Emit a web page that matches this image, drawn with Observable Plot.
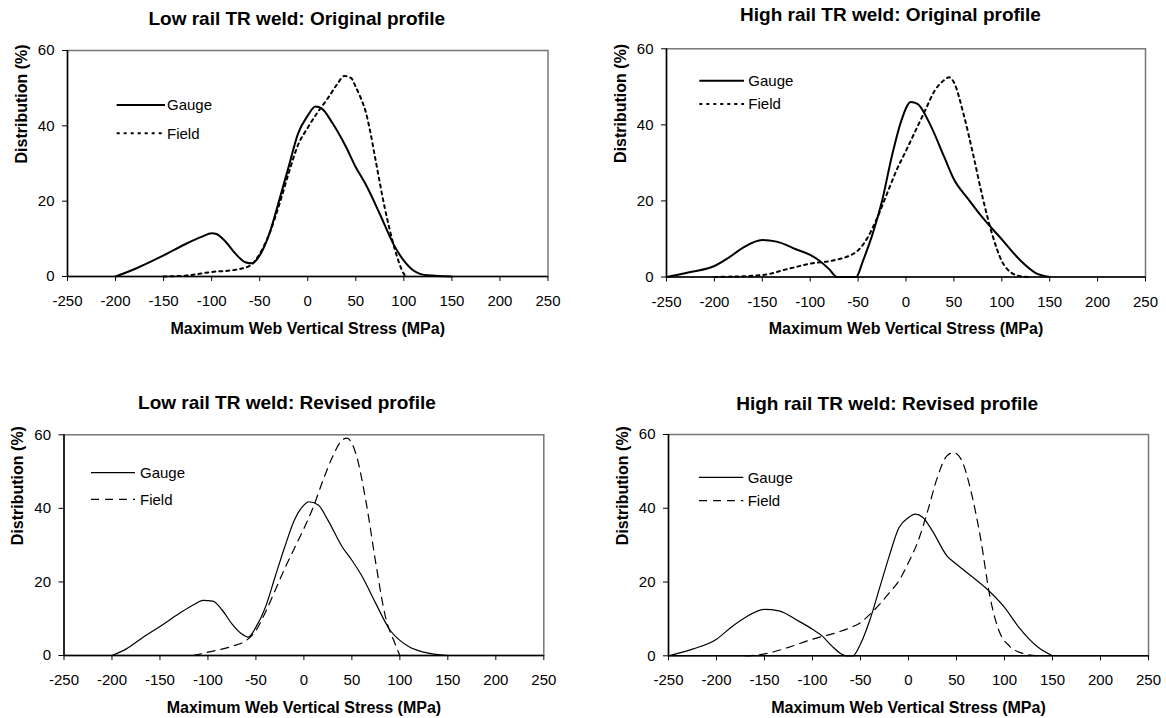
<!DOCTYPE html>
<html>
<head>
<meta charset="utf-8">
<script src="https://cdn.jsdelivr.net/npm/d3@7"></script>
<script src="https://cdn.jsdelivr.net/npm/@observablehq/plot@0.6"></script>
<style>
  body { margin: 0; background: #fff; }
  #root { position: relative; width: 1166px; height: 718px; overflow: hidden; background: #fff;
          font-family: "Liberation Sans", Arial, sans-serif; }
  .panel { position: absolute; }
  #legendLayer { position: absolute; left: 0; top: 0; pointer-events: none; }
</style>
</head>
<body>
<div id="root"></div>
<script>
// ---------- tick labels & text ----------
const xTicks = [-250, -200, -150, -100, -50, 0, 50, 100, 150, 200, 250];
const yTicks = [0, 20, 40, 60];
const panelTitles = [
  "Low rail TR weld: Original profile",
  "High rail TR weld: Original profile",
  "Low rail TR weld: Revised profile",
  "High rail TR weld: Revised profile"
];
const xAxisLabel = "Maximum Web Vertical Stress (MPa)";
const yAxisLabel = "Distribution (%)";
const seriesNames = ["Gauge", "Field"];

// ---------- data: Low rail, original profile ----------
const lowOrigGaugeX = [-200,-180,-150,-125,-110,-100,-95,-85,-75,-65,-58,-50,-40,-30,-20,-10,0,8,15,25,40,50,60,75,90,100,110,125,150];
const lowOrigGaugeY = [0,2,5.6,8.9,10.6,11.5,11.3,9.1,6,3.8,3.5,5.6,11.3,20,29,38,42.7,45.1,44.5,41,34.3,29,24.6,16.6,8.2,4.2,1.6,0.3,0];
const lowOrigFieldX = [-150,-125,-100,-75,-60,-50,-40,-30,-20,-10,0,10,20,30,38,45,50,55,60,65,70,80,90,100,102];
const lowOrigFieldY = [0,0.3,1.2,1.8,2.9,6,11.3,18.8,27.3,35,39.5,43.5,47,50.8,53.2,52.7,50.3,47.5,44,38.5,31.7,18.4,7.8,0.7,0];

// ---------- data: High rail, original profile ----------
const highOrigGaugeX = [-250,-225,-200,-185,-170,-150,-135,-115,-100,-90,-80,-72,-52,-45,-35,-25,-15,-5,5,12,25,40,50,65,80,100,120,135,150];
const highOrigGaugeY = [0,1.3,2.9,5.1,7.7,9.7,9.3,7.3,5.8,4.2,2,0,0,4.2,11.2,20,31.5,41,46,45.5,40.2,31.5,25.7,20.5,15.6,9.9,4.2,1.1,0];
const highOrigFieldX = [-200,-150,-125,-100,-75,-60,-50,-40,-30,-20,-10,0,10,20,30,40,45,50,60,70,80,90,100,110,120,130];
const highOrigFieldY = [0,0.5,2,3.5,4.4,5.5,7,10.4,15.6,21.8,28,33.2,38.5,43.8,49,51.8,52.5,51.2,42.9,32.3,20.9,11.2,4.2,1.1,0.2,0];

// ---------- data: Low rail, revised profile ----------
const lowRevGaugeX = [-200,-185,-170,-150,-130,-115,-105,-95,-85,-75,-65,-58,-50,-40,-30,-20,-10,0,5,15,25,40,50,60,75,90,100,110,125,150];
const lowRevGaugeY = [0,1.8,4.5,7.9,11.4,13.8,15,14.8,12.3,8.6,5.9,5,7.7,13.2,21.4,29.5,36.8,40.9,41.8,40.9,36.8,29.5,25.9,21.8,14.1,6.8,4.1,2.3,0.9,0];
const lowRevFieldX = [-115,-100,-75,-60,-50,-40,-30,-20,-10,0,10,20,30,40,45,50,55,65,75,85,95,100];
const lowRevFieldY = [0,0.9,2.5,4.1,6.8,11.8,17.7,23.6,29.1,34.5,40.5,47.7,54.1,58.6,59.1,57.7,54.1,41.4,25,10.5,3.2,0];

// ---------- data: High rail, revised profile ----------
const highRevGaugeX = [-250,-225,-200,-185,-170,-150,-135,-115,-100,-90,-80,-70,-65,-58,-50,-40,-30,-20,-10,0,7,15,25,40,50,65,80,100,115,135,150];
const highRevGaugeY = [0,1.8,4.5,7.7,10.4,12.6,12.2,9.5,7.2,5.4,2.7,0.5,0,0,3.2,9.9,18.5,27.1,34.7,37.5,38.4,37.5,33.8,27.1,24.8,21.7,18.5,13.1,7.7,2.3,0];
const highRevFieldX = [-170,-150,-125,-100,-75,-60,-50,-40,-30,-20,-10,0,10,20,30,40,47,55,65,75,85,95,105,120,135];
const highRevFieldY = [0,0.5,2.3,4.5,6.3,7.7,9,11.3,14,17.1,20.3,25.3,31.1,39.3,48.3,54.2,55.1,53.2,44.7,32,15.8,6.3,2.7,0.6,0];

// ---------- layout / style (not data) ----------
const FONT = "Liberation Sans, Arial, sans-serif";
const styles = {
  original: { gaugeWidth: 2, fieldWidth: 2, fieldDash: "3,4" },
  revised:  { gaugeWidth: 1.2, fieldWidth: 1.2, fieldDash: "8,6" }
};
const panels = [
  { left: 0,   top: 0,   ml: 67,   mr: 35.5, mt: 50,   mb: 83,   titleDx: -11,  titleDy: -26,
    gx: lowOrigGaugeX, gy: lowOrigGaugeY, fx: lowOrigFieldX, fy: lowOrigFieldY, style: styles.original,
    legend: { x0: 116.7, x1: 165, yG: 105, yF: 133.3, tx: 167 } },
  { left: 583, top: 0,   ml: 83,   mr: 21,   mt: 48.3, mb: 82.5, titleDx: -15.5, titleDy: -27.6,
    gx: highOrigGaugeX, gy: highOrigGaugeY, fx: highOrigFieldX, fy: highOrigFieldY, style: styles.original,
    legend: { x0: 699.3, x1: 744, yG: 80.7, yF: 104, tx: 748.3 } },
  { left: 0,   top: 359, ml: 63.5, mr: 39.7, mt: 75.3, mb: 63,   titleDx: -17,  titleDy: -25.8,
    gx: lowRevGaugeX, gy: lowRevGaugeY, fx: lowRevFieldX, fy: lowRevFieldY, style: styles.revised,
    legend: { x0: 91, x1: 135, yG: 472.7, yF: 499.3, tx: 140 } },
  { left: 583, top: 359, ml: 85,   mr: 18,   mt: 75,   mb: 62.7, titleDx: -21.3, titleDy: -25,
    gx: highRevGaugeX, gy: highRevGaugeY, fx: highRevFieldX, fy: highRevFieldY, style: styles.revised,
    legend: { x0: 699, x1: 743.3, yG: 477.3, yF: 500.7, tx: 747.7 } }
];

const root = document.getElementById("root");

panels.forEach((p, i) => {
  const gauge = p.gx.map((x, k) => ({ x, y: p.gy[k] }));
  const field = p.fx.map((x, k) => ({ x, y: p.fy[k] }));
  const chart = Plot.plot({
    width: 583,
    height: 359,
    marginLeft: p.ml,
    marginRight: p.mr,
    marginTop: p.mt,
    marginBottom: p.mb,
    style: { fontFamily: FONT, fontSize: "15px", color: "#000", background: "transparent", overflow: "visible" },
    x: { domain: [-250, 250] },
    y: { domain: [0, 60] },
    marks: [
      Plot.frame({ stroke: "#777", strokeWidth: 1.5 }),
      Plot.line(field, { x: "x", y: "y", curve: "monotone-x", stroke: "#000",
        strokeWidth: p.style.fieldWidth, strokeDasharray: p.style.fieldDash }),
      Plot.line(gauge, { x: "x", y: "y", curve: "monotone-x", stroke: "#000",
        strokeWidth: p.style.gaugeWidth }),
      Plot.ruleY([0], { stroke: "#000", strokeWidth: 1.5 }),
      Plot.ruleX([-250], { stroke: "#000", strokeWidth: 1.5 }),
      Plot.axisX({ ticks: xTicks, tickSize: 5, tickPadding: 14, tickFormat: d => String(d),
        label: null, fontSize: 15, stroke: "#000" }),
      Plot.axisY({ ticks: yTicks, tickSize: 5, tickPadding: 8, tickFormat: d => String(d),
        label: null, fontSize: 15, stroke: "#000" }),
      Plot.text([panelTitles[i]], { text: d => d, frameAnchor: "top", lineAnchor: "bottom",
        dx: p.titleDx, dy: p.titleDy, fontWeight: "bold", fontSize: 19, fill: "#000" }),
      Plot.text([xAxisLabel], { text: d => d, frameAnchor: "bottom", lineAnchor: "bottom",
        dy: 57, fontWeight: "bold", fontSize: 16, fill: "#000" }),
      Plot.text([yAxisLabel], { text: d => d, frameAnchor: "left", rotate: -90,
        dx: -46, fontWeight: "bold", fontSize: 16, fill: "#000" })
    ]
  });
  const div = document.createElement("div");
  div.className = "panel";
  div.style.left = p.left + "px";
  div.style.top = p.top + "px";
  div.appendChild(chart);
  root.appendChild(div);
});

// ---------- legends (overlay) ----------
const layer = d3.select(root).append("svg")
  .attr("id", "legendLayer")
  .attr("width", 1166).attr("height", 718);

panels.forEach(p => {
  const L = p.legend;
  const rows = [
    { name: seriesNames[0], y: L.yG, w: p.style.gaugeWidth, dash: null },
    { name: seriesNames[1], y: L.yF, w: p.style.fieldWidth, dash: p.style.fieldDash }
  ];
  rows.forEach(r => {
    layer.append("line")
      .attr("x1", L.x0).attr("x2", L.x1)
      .attr("y1", r.y).attr("y2", r.y)
      .attr("stroke", "#000").attr("stroke-width", r.w)
      .attr("stroke-dasharray", r.dash);
    layer.append("text")
      .attr("x", L.tx).attr("y", r.y).attr("dy", "0.35em")
      .attr("font-family", FONT).attr("font-size", 15)
      .attr("fill", "#000")
      .text(r.name);
  });
});
</script>
</body>
</html>
